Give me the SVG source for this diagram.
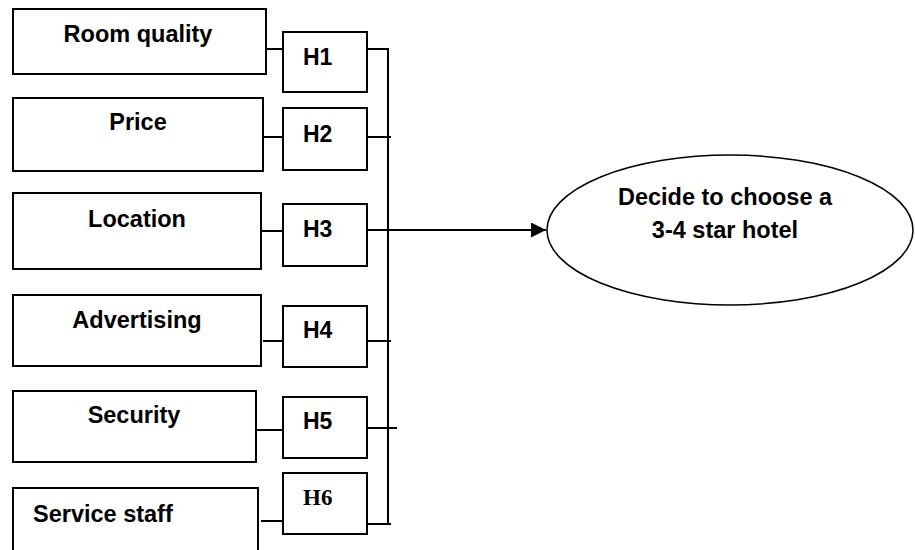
<svg xmlns="http://www.w3.org/2000/svg" width="915" height="550" viewBox="0 0 915 550">
<style>
.box{fill:#fff;stroke:#000;stroke-width:2}
.lbl{font-family:"Liberation Sans",Arial,sans-serif;font-weight:bold;font-size:23.5px;fill:#000}
.h{font-family:"Liberation Sans",Arial,sans-serif;font-weight:bold;font-size:23px;fill:#000}
.hs{font-family:"Liberation Serif","Times New Roman",serif;font-weight:bold;font-size:23px;fill:#000}
.ln{stroke:#000;stroke-width:2;fill:none}
</style>
<defs>
<marker id="arr" markerWidth="16" markerHeight="16" refX="15" refY="7.5" orient="auto" markerUnits="userSpaceOnUse">
<path d="M0,0 L15,7.5 L0,15 Z" fill="#000"/>
</marker>
</defs>
<rect width="915" height="550" fill="#fff"/>
<g id="connectors">
<line class="ln" x1="266" y1="49" x2="283" y2="49"/>
<line class="ln" x1="263" y1="137" x2="283" y2="137"/>
<line class="ln" x1="261" y1="231" x2="283" y2="231"/>
<line class="ln" x1="263" y1="341" x2="283" y2="341"/>
<line class="ln" x1="256" y1="430" x2="283" y2="430"/>
<line class="ln" x1="261" y1="521" x2="283" y2="521"/>
<polyline class="ln" points="367,49 388,49 388,524"/>
<line class="ln" x1="367" y1="137" x2="391" y2="137"/>
<line class="ln" x1="367" y1="341" x2="391" y2="341"/>
<line class="ln" x1="367" y1="428" x2="397" y2="428"/>
<line class="ln" x1="367" y1="524" x2="391" y2="524"/>
<line class="ln" x1="367" y1="230" x2="546" y2="230" marker-end="url(#arr)"/>
</g>
<g id="room-quality"><rect class="box" x="13" y="9" width="253" height="65"/><text class="lbl" x="138" y="42" text-anchor="middle">Room quality</text></g>
<g id="price"><rect class="box" x="13" y="98" width="250" height="73"/><text class="lbl" x="138" y="130" text-anchor="middle">Price</text></g>
<g id="location"><rect class="box" x="13" y="193" width="248" height="76"/><text class="lbl" x="137" y="227" text-anchor="middle">Location</text></g>
<g id="advertising"><rect class="box" x="13" y="295" width="248" height="71"/><text class="lbl" x="137" y="328" text-anchor="middle">Advertising</text></g>
<g id="security"><rect class="box" x="13" y="391" width="243" height="71"/><text class="lbl" x="134" y="423" text-anchor="middle">Security</text></g>
<g id="service-staff"><rect class="box" x="13" y="488" width="245" height="80"/><text class="lbl" x="33" y="522">Service staff</text></g>
<g id="h1"><rect class="box" x="283" y="32" width="84" height="60"/><text class="h" x="303" y="65">H1</text></g>
<g id="h2"><rect class="box" x="283" y="108" width="84" height="62"/><text class="h" x="303" y="142">H2</text></g>
<g id="h3"><rect class="box" x="283" y="204" width="84" height="62"/><text class="h" x="303" y="237">H3</text></g>
<g id="h4"><rect class="box" x="283" y="306" width="84" height="61"/><text class="h" x="303" y="338">H4</text></g>
<g id="h5"><rect class="box" x="283" y="397" width="84" height="61"/><text class="h" x="303" y="429">H5</text></g>
<g id="h6"><rect class="box" x="283" y="473" width="84" height="61"/><text class="hs" x="303" y="505">H6</text></g>
<g id="decision"><ellipse cx="730" cy="230" rx="183" ry="75" fill="#fff" stroke="#000" stroke-width="1.5"/>
<text class="lbl" x="725" y="205" text-anchor="middle">Decide to choose a</text>
<text class="lbl" x="725" y="238" text-anchor="middle">3-4 star hotel</text></g>
</svg>
